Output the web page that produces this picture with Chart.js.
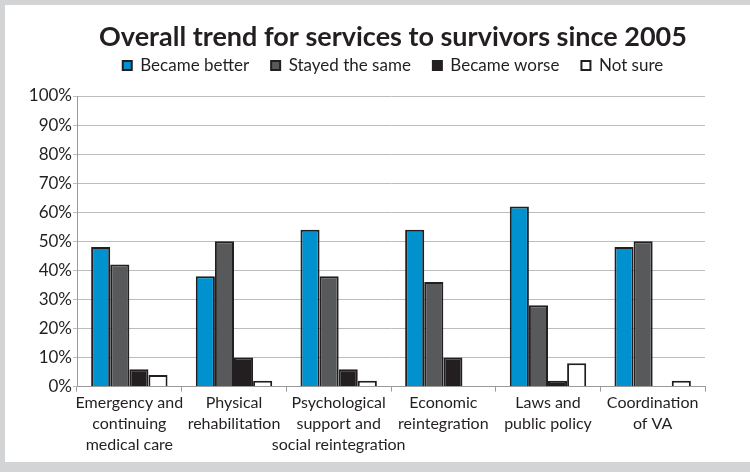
<!DOCTYPE html>
<html lang="en">
  <head>
    <meta charset="UTF-8" />
    <title>Overall trend for services to survivors since 2005</title>
    <script src="https://cdn.jsdelivr.net/npm/chart.js"></script>
    <style>
      html,
      body {
        margin: 0;
        width: 750px;
        height: 472px;
        overflow: hidden;
        background: #d3d4d6;
      }
      #panel {
        position: absolute;
        left: 5px;
        top: 5px;
        width: 745px;
        height: 457px;
        background: #fff;
        overflow: hidden;
      }
      #wrap {
        position: absolute;
        left: 15px;
        top: 0;
        width: 746px;
        height: 457px;
      }
    </style>
  </head>
  <body>
    <div id="panel">
      <div id="wrap"><canvas id="trendChart"></canvas></div>
    </div>

    <script>
      const services = [
        ["Emergency and", "continuing", "medical care"],
        ["Physical", "rehabilitation"],
        ["Psychological", "support and", "social reintegration"],
        ["Economic", "reintegration"],
        ["Laws and", "public policy"],
        ["Coordination", "of VA"],
      ];

      const becameBetter = [48, 38, 54, 54, 62, 48];
      const stayedSame = [42, 50, 38, 36, 28, 50];
      const becameWorse = [6, 10, 6, 10, 2, 0];
      const notSure = [4, 2, 2, 0, 8, 2];

      const font = "Lato, 'Open Sans', sans-serif";
      const edge = "#231f20";

      const bar = (label, data, color) => ({
        label: label,
        data: data,
        backgroundColor: color,
        borderColor: edge,
        borderWidth: 2,
        borderSkipped: "bottom",
        categoryPercentage: 0.73,
        barPercentage: 1,
      });

      // leave more room between the legend and the plot
      const legendGap = {
        id: "legendGap",
        beforeInit(chart) {
          const fit = chart.legend.fit;
          chart.legend.fit = function () {
            fit.call(this);
            this.height += 12;
          };
        },
      };

      const ctx = document.getElementById("trendChart").getContext("2d");
      const trendChart = new Chart(ctx, {
        type: "bar",
        data: {
          labels: services,
          datasets: [
            bar("Became better", becameBetter, "#0092cf"),
            bar("Stayed the same", stayedSame, "#58595b"),
            bar("Became worse", becameWorse, "#231f20"),
            bar("Not sure", notSure, "#ffffff"),
          ],
        },
        plugins: [legendGap],
        options: {
          responsive: true,
          maintainAspectRatio: false,
          animation: false,
          layout: {
            padding: { top: 19, right: 0, bottom: 6, left: 0 },
          },
          plugins: {
            title: {
              display: true,
              text: "Overall trend for services to survivors since 2005",
              color: "#231f20",
              font: { family: font, size: 27, weight: "bold", lineHeight: 1 },
              padding: { top: 0, bottom: -16 },
            },
            legend: {
              display: true,
              labels: {
                color: "#231f20",
                font: { family: font, size: 17 },
                boxWidth: 9,
                boxHeight: 9,
                padding: 22,
              },
            },
            tooltip: { enabled: false },
          },
          scales: {
            x: {
              grid: {
                display: true,
                offset: true,
                drawOnChartArea: false,
                tickLength: 5,
                color: "#9a9a9a",
              },
              border: { color: "#9a9a9a" },
              ticks: {
                color: "#231f20",
                font: { family: font, size: 16, lineHeight: 1.3 },
                maxRotation: 0,
                autoSkip: false,
                padding: 1,
              },
            },
            y: {
              min: 0,
              max: 100,
              afterFit: (scale) => {
                scale.width = 57;
              },
              ticks: {
                stepSize: 10,
                color: "#231f20",
                font: { family: font, size: 17 },
                padding: 1,
                callback: (v) => v + "%",
              },
              grid: {
                color: "#bcbcbc",
                tickLength: 4,
              },
              border: { color: "#9a9a9a" },
            },
            // empty right-hand strip so the plot stops short of the edge
            y2: {
              position: "right",
              min: 0,
              max: 100,
              afterFit: (scale) => {
                scale.width = 61;
              },
              ticks: { display: false },
              grid: { display: false },
              border: { display: false },
            },
          },
        },
      });
    </script>
  </body>
</html>
